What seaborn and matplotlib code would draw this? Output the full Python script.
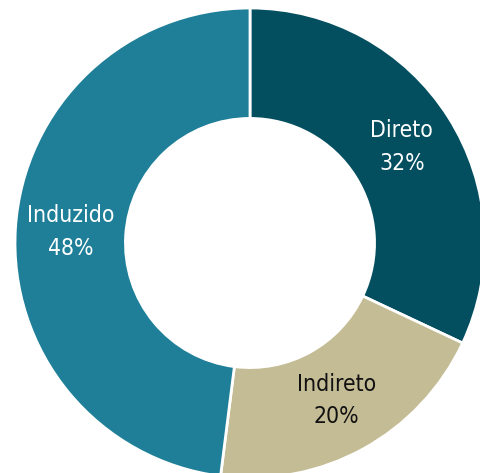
import matplotlib
matplotlib.use("Agg")
import matplotlib.pyplot as plt
import seaborn as sns
import numpy as np
from matplotlib import font_manager

labels = ["Direto", "Indireto", "Induzido"]
values = [32, 20, 48]
colors = ["#034F60", "#C4BC94", "#1F7F98"]
text_colors = ["white", "#111111", "white"]

sns.set_theme(style="white")
fams = {f.name for f in font_manager.fontManager.ttflist}
fam = "Liberation Sans Narrow" if "Liberation Sans Narrow" in fams else "DejaVu Sans"
plt.rcParams["font.family"] = [fam, "DejaVu Sans"]

W, H = 481, 473
cx, cy, R = 250, 243, 235
fig = plt.figure(figsize=(W / 100, H / 100), dpi=100)
ax = fig.add_axes([0, 0, 1, 1])

inner = 0.53
wedges, _ = ax.pie(values, colors=sns.color_palette(colors), startangle=90,
                   counterclock=False, radius=1.0,
                   wedgeprops=dict(width=1 - inner, edgecolor="white", linewidth=2))
ax.set_xlim(-cx / R, (W - cx) / R)
ax.set_ylim(-(H - cy) / R, cy / R)
ax.set_aspect("equal")
ax.axis("off")

mid_r = (1 + inner) / 2
cum = 0
for lab, v, tc in zip(labels, values, text_colors):
    ang = np.deg2rad(90 - (cum + v / 2) / 100 * 360)
    cum += v
    ax.text(mid_r * np.cos(ang), mid_r * np.sin(ang), f"{lab}\n{v}%",
            ha="center", va="center", color=tc, fontsize=16.5, linespacing=1.55,
            fontstretch="condensed")

fig.savefig("out.png", dpi=100)
